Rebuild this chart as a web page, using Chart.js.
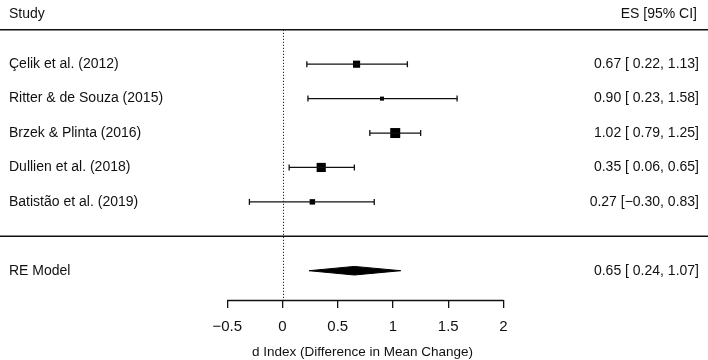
<!DOCTYPE html>
<html>
<head>
<meta charset="utf-8">
<script src="https://cdn.jsdelivr.net/npm/chart.js@4/dist/chart.umd.min.js"></script>
<style>
  html, body { margin: 0; padding: 0; background: #fff; }
  #wrap { width: 708px; height: 360px; position: relative; }
</style>
</head>
<body>
<div id="wrap"><canvas id="c" width="708" height="360"></canvas></div>
<script>
// ---- data ----
const studies = ["Çelik et al. (2012)", "Ritter & de Souza (2015)", "Brzek & Plinta (2016)", "Dullien et al. (2018)", "Batistão et al. (2019)"];
const es = [0.67, 0.90, 1.02, 0.35, 0.27];
const ciLow = [0.22, 0.23, 0.79, 0.06, -0.30];
const ciHigh = [1.13, 1.58, 1.25, 0.65, 0.83];
const weights = [20.0, 15.5, 24.1, 22.9, 17.6];   // estimated RE weights (%)
const summaryLabel = "RE Model";
const summaryEs = 0.65;
const summaryLow = 0.24;
const summaryHigh = 1.07;
const xTicks = [-0.5, 0, 0.5, 1, 1.5, 2];
const xTitle = "d Index (Difference in Mean Change)";
const headLeft = "Study";
const headRight = "ES [95% CI]";

// ---- helpers ----
const FONT = "'Liberation Sans', Arial, Helvetica, sans-serif";
const k = studies.length;
const rows = studies.map((s, i) => k - i);       // metafor-style row index
const summaryRow = -1;
const minus = v => (v < 0 ? "\u2212" + Math.abs(v).toFixed(2) : v.toFixed(2));
const pad = v => (v < 0 ? minus(v) : " " + v.toFixed(2));
const esText = (e, l, h) => `${minus(e)} [${pad(l)}, ${minus(h)}]`;

// square sizes scaled by weight
const wMin = Math.min(...weights), wMax = Math.max(...weights);
const sideMin = 4, sideMax = 10;
const sides = weights.map(w => sideMin + (w - wMin) / (wMax - wMin) * (sideMax - sideMin));

// ---- datasets ----
const datasets = [];
studies.forEach((s, i) => {
  datasets.push({
    type: 'scatter',
    data: [{ x: ciLow[i], y: rows[i] }, { x: ciHigh[i], y: rows[i] }],
    showLine: true,
    borderColor: '#111',
    borderWidth: 1.3,
    pointStyle: 'line',
    rotation: 90,
    pointRadius: 3,
    pointBorderWidth: 1.3,
    pointBorderColor: '#111',
    pointHoverRadius: 3
  });
});
datasets.push({
  type: 'scatter',
  data: es.map((e, i) => ({ x: e, y: rows[i] })),
  pointStyle: 'rect',
  pointRadius: sides.map(s => s / 2 / Math.SQRT1_2),
  pointHoverRadius: sides.map(s => s / 2 / Math.SQRT1_2),
  backgroundColor: '#000',
  borderWidth: 0,
  pointBorderWidth: 0
});
const dh = 0.125;
datasets.push({
  type: 'line',
  data: [
    { x: summaryLow, y: summaryRow },
    { x: summaryEs, y: summaryRow + dh },
    { x: summaryHigh, y: summaryRow },
    { x: summaryEs, y: summaryRow - dh },
    { x: summaryLow, y: summaryRow }
  ],
  fill: 'shape',
  backgroundColor: '#000',
  borderColor: '#000',
  borderWidth: 1,
  pointRadius: 0,
  tension: 0
});

// ---- decorations plugin ----
const forestDeco = {
  id: 'forestDeco',
  beforeDatasetsDraw(chart) {
    const { ctx, scales: { x, y }, chartArea } = chart;
    ctx.save();
    // dotted reference line at 0
    ctx.strokeStyle = '#222';
    ctx.lineWidth = 1;
    ctx.setLineDash([1.2, 1.8]);
    ctx.beginPath();
    const x0 = Math.round(x.getPixelForValue(0)) + 0.5;
    ctx.moveTo(x0, y.getPixelForValue(k + 1));
    ctx.lineTo(x0, chartArea.bottom);
    ctx.stroke();
    ctx.setLineDash([]);
    // horizontal rules
    ctx.strokeStyle = '#111';
    ctx.lineWidth = 1.6;
    [k + 1, 0].forEach(r => {
      const py = y.getPixelForValue(r);
      ctx.beginPath();
      ctx.moveTo(0, py);
      ctx.lineTo(chart.width, py);
      ctx.stroke();
    });
    // x axis line
    ctx.lineWidth = 1.3;
    ctx.beginPath();
    ctx.moveTo(x.getPixelForValue(xTicks[0]), chartArea.bottom + 0.5);
    ctx.lineTo(x.getPixelForValue(xTicks[xTicks.length - 1]), chartArea.bottom + 0.5);
    ctx.stroke();
    // texts
    ctx.fillStyle = '#111';
    ctx.font = `14px ${FONT}`;
    ctx.textBaseline = 'middle';
    const hy = y.getPixelForValue(k + 1.45);
    ctx.textAlign = 'left';
    ctx.fillText(headLeft, 9, hy);
    ctx.textAlign = 'right';
    ctx.fillText(headRight, 697, hy);
    studies.forEach((s, i) => {
      const py = y.getPixelForValue(rows[i]);
      ctx.textAlign = 'left';
      ctx.fillText(s, 9, py);
      ctx.textAlign = 'right';
      ctx.fillText(esText(es[i], ciLow[i], ciHigh[i]), 699, py);
    });
    const sy = y.getPixelForValue(summaryRow);
    ctx.textAlign = 'left';
    ctx.fillText(summaryLabel, 9, sy);
    ctx.textAlign = 'right';
    ctx.fillText(esText(summaryEs, summaryLow, summaryHigh), 699, sy);
    ctx.restore();
  }
};

const chart = new Chart(document.getElementById('c'), {
  type: 'scatter',
  data: { datasets },
  options: {
    responsive: false,
    animation: false,
    devicePixelRatio: 1,
    layout: { padding: { left: 24, right: 0, top: 0, bottom: 0 } },
    plugins: { legend: { display: false }, tooltip: { enabled: false } },
    events: [],
    scales: {
      x: {
        type: 'linear',
        min: -2.3255,
        max: 3.8255,
        afterBuildTicks: s => { s.ticks = xTicks.map(v => ({ value: v })); },
        afterFit: s => { s.height = 60; },
        grid: { drawOnChartArea: false, drawTicks: true, tickLength: 8, color: '#111', lineWidth: 1.3 },
        border: { display: false },
        ticks: {
          autoSkip: false,
          maxRotation: 0,
          padding: 10,
          color: '#111',
          font: { family: FONT, size: 15 },
          callback: v => (v < 0 ? "\u2212" + Math.abs(v) : String(v))
        },
        title: { display: true, text: xTitle, color: '#111', font: { family: FONT, size: 13.5 }, padding: { top: 0, bottom: 0 } }
      },
      y: {
        type: 'linear',
        display: false,
        min: -1.851,
        max: 6.66
      }
    }
  },
  plugins: [forestDeco]
});

// calibrate the x range so the axis from -0.5 to 2 spans the same pixels as the reference
(function calibrate() {
  const ca = chart.chartArea;
  const pxA = 227.3, pxB = 503.5;
  const ppu = (pxB - pxA) / (xTicks[xTicks.length - 1] - xTicks[0]);
  chart.options.scales.x.min = xTicks[0] - (pxA - ca.left) / ppu;
  chart.options.scales.x.max = xTicks[xTicks.length - 1] + (ca.right - pxB) / ppu;
  chart.update('none');
})();
</script>
</body>
</html>
